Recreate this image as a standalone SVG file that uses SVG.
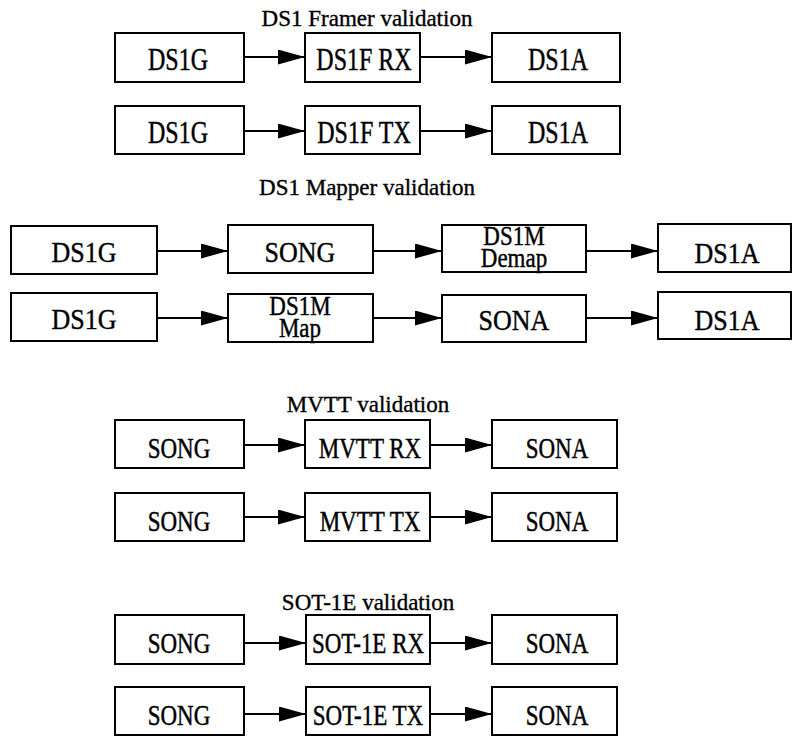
<svg xmlns="http://www.w3.org/2000/svg" width="792" height="736" viewBox="0 0 792 736">
<defs>
<marker id="ah" markerWidth="27" markerHeight="15" refX="27" refY="7.5" orient="auto" markerUnits="userSpaceOnUse">
<polygon points="0,0 27,7.5 0,15" fill="#000"/>
</marker>
<style>
.b{fill:#fff;stroke:#000;stroke-width:2}
text{font-family:"Liberation Serif","Times New Roman",serif;text-anchor:middle;fill:#000;stroke:#000;stroke-width:0.35}
.t{font-size:24px}
.m{font-size:26px}
.u{font-size:23px}
.s{font-size:23px}
.h{font-size:23px}
.c line{stroke:#000;stroke-width:2;marker-end:url(#ah)}
</style>
</defs>
<rect width="792" height="736" fill="#fff"/>
<text class="h" x="367" y="26">DS1 Framer validation</text>
<text class="h" x="367" y="195">DS1 Mapper validation</text>
<text class="h" x="368" y="412">MVTT validation</text>
<text class="h" x="368" y="610">SOT-1E validation</text>

<g id="r1a"><rect class="b" x="115" y="33" width="129" height="49"/><text class="t" transform="matrix(1 0 0 1.3 178 70)">DS1G</text></g>
<g id="r1b"><rect class="b" x="305" y="33" width="115" height="49"/><text class="t" transform="matrix(1 0 0 1.3 364 70)">DS1F RX</text></g>
<g id="r1c"><rect class="b" x="492" y="33" width="128" height="49"/><text class="t" transform="matrix(1 0 0 1.3 558 70)">DS1A</text></g>

<g id="r2a"><rect class="b" x="115" y="106" width="129" height="48"/><text class="t" transform="matrix(1 0 0 1.3 178 143)">DS1G</text></g>
<g id="r2b"><rect class="b" x="305" y="106" width="115" height="48"/><text class="t" transform="matrix(1 0 0 1.3 364 143)">DS1F TX</text></g>
<g id="r2c"><rect class="b" x="492" y="106" width="128" height="48"/><text class="t" transform="matrix(1 0 0 1.3 558 143)">DS1A</text></g>

<g id="r3a"><rect class="b" x="11" y="226" width="146" height="48"/><text class="m" transform="matrix(1 0 0 1.16 84 262)">DS1G</text></g>
<g id="r3b"><rect class="b" x="228" y="225" width="145" height="48"/><text class="m" transform="matrix(1 0 0 1.16 300 262)">SONG</text></g>
<g id="r3c"><rect class="b" x="442" y="225" width="144" height="47"/><text class="s" transform="matrix(1 0 0 1.15 514 245)">DS1M</text><text class="s" transform="matrix(1 0 0 1.15 514 267)">Demap</text></g>
<g id="r3d"><rect class="b" x="658" y="224" width="133" height="48"/><text class="m" transform="matrix(1 0 0 1.16 727 263)">DS1A</text></g>

<g id="r4a"><rect class="b" x="11" y="293" width="146" height="48"/><text class="m" transform="matrix(1 0 0 1.16 84 329)">DS1G</text></g>
<g id="r4b"><rect class="b" x="228" y="294" width="145" height="48"/><text class="s" transform="matrix(1 0 0 1.15 300 315)">DS1M</text><text class="s" transform="matrix(1 0 0 1.15 300 337)">Map</text></g>
<g id="r4c"><rect class="b" x="442" y="295" width="144" height="47"/><text class="m" transform="matrix(1 0 0 1.16 514 330)">SONA</text></g>
<g id="r4d"><rect class="b" x="658" y="292" width="133" height="47"/><text class="m" transform="matrix(1 0 0 1.16 727 330)">DS1A</text></g>

<g id="r5a"><rect class="b" x="115" y="420" width="129" height="48"/><text class="u" transform="matrix(1 0 0 1.27 179 458)">SONG</text></g>
<g id="r5b"><rect class="b" x="305" y="420" width="125" height="48"/><text class="u" transform="matrix(1 0 0 1.27 370 458)">MVTT RX</text></g>
<g id="r5c"><rect class="b" x="492" y="420" width="125" height="48"/><text class="u" transform="matrix(1 0 0 1.27 557 458)">SONA</text></g>

<g id="r6a"><rect class="b" x="115" y="493" width="129" height="48"/><text class="u" transform="matrix(1 0 0 1.27 179 531)">SONG</text></g>
<g id="r6b"><rect class="b" x="305" y="493" width="125" height="48"/><text class="u" transform="matrix(1 0 0 1.27 370 531)">MVTT TX</text></g>
<g id="r6c"><rect class="b" x="492" y="493" width="125" height="48"/><text class="u" transform="matrix(1 0 0 1.27 557 531)">SONA</text></g>

<g id="r7a"><rect class="b" x="115" y="615" width="129" height="49"/><text class="u" transform="matrix(1 0 0 1.27 179 653)">SONG</text></g>
<g id="r7b"><rect class="b" x="306" y="615" width="124" height="49"/><text class="u" transform="matrix(1 0 0 1.27 368 653)">SOT-1E RX</text></g>
<g id="r7c"><rect class="b" x="492" y="615" width="125" height="49"/><text class="u" transform="matrix(1 0 0 1.27 557 653)">SONA</text></g>

<g id="r8a"><rect class="b" x="115" y="687" width="129" height="48"/><text class="u" transform="matrix(1 0 0 1.27 179 725)">SONG</text></g>
<g id="r8b"><rect class="b" x="306" y="687" width="124" height="48"/><text class="u" transform="matrix(1 0 0 1.27 368 725)">SOT-1E TX</text></g>
<g id="r8c"><rect class="b" x="492" y="687" width="125" height="48"/><text class="u" transform="matrix(1 0 0 1.27 557 725)">SONA</text></g>

<g class="c" id="connectors">
<line x1="244" y1="57" x2="305" y2="57"/>
<line x1="420" y1="57" x2="492" y2="57"/>
<line x1="244" y1="131" x2="305" y2="131"/>
<line x1="420" y1="131" x2="492" y2="131"/>
<line x1="157" y1="251" x2="228" y2="251"/>
<line x1="373" y1="251" x2="442" y2="251"/>
<line x1="586" y1="251" x2="658" y2="251"/>
<line x1="157" y1="318" x2="228" y2="318"/>
<line x1="373" y1="318" x2="442" y2="318"/>
<line x1="586" y1="318" x2="658" y2="318"/>
<line x1="244" y1="445" x2="305" y2="445"/>
<line x1="430" y1="445" x2="492" y2="445"/>
<line x1="244" y1="517" x2="305" y2="517"/>
<line x1="430" y1="517" x2="492" y2="517"/>
<line x1="244" y1="643" x2="306" y2="643"/>
<line x1="430" y1="643" x2="492" y2="643"/>
<line x1="244" y1="714" x2="306" y2="714"/>
<line x1="430" y1="714" x2="492" y2="714"/>
</g>
</svg>
